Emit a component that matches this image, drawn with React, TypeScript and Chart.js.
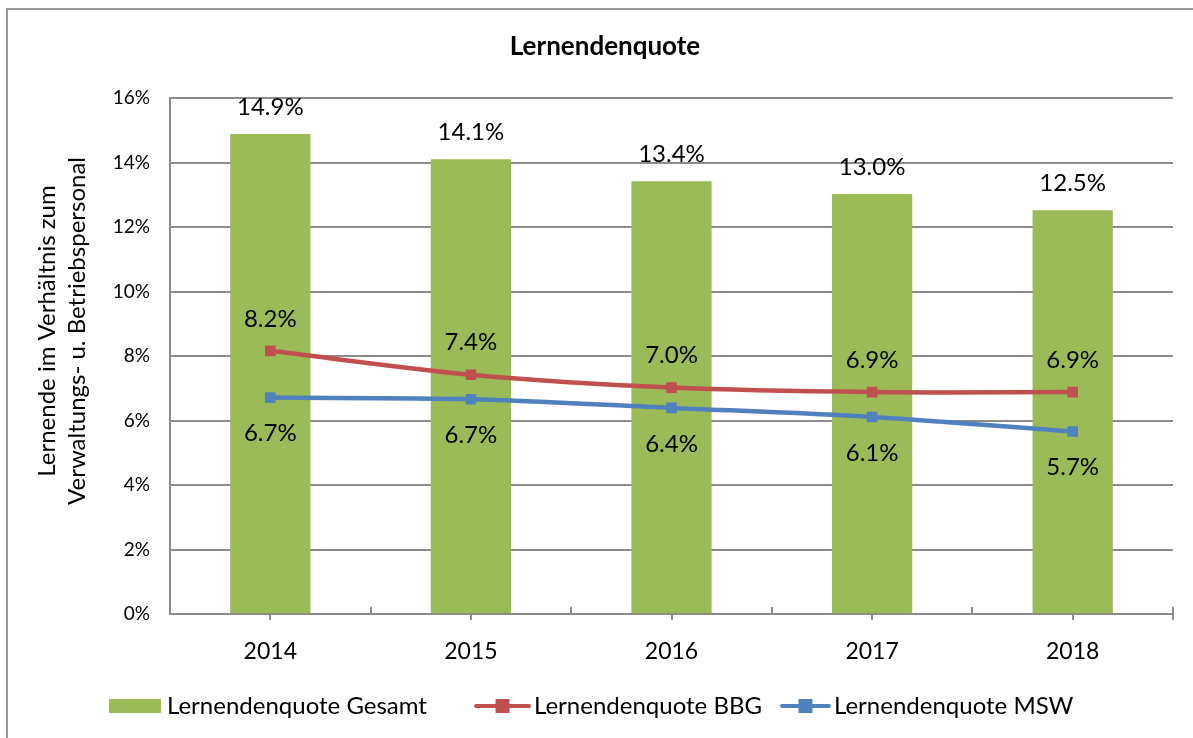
import { useEffect, useRef } from "react";
import { Chart, registerables } from "chart.js";

Chart.register(...registerables);

const years = ["2014", "2015", "2016", "2017", "2018"];
const gesamt = [14.88, 14.1, 13.42, 13.02, 12.52];
const bbg = [8.16, 7.42, 7.02, 6.88, 6.88];
const msw = [6.71, 6.66, 6.39, 6.11, 5.66];
const seriesNames = ["Lernendenquote Gesamt", "Lernendenquote BBG", "Lernendenquote MSW"];
const chartTitle = "Lernendenquote";
const yTitleLines = ["Lernende im Verhältnis zum", "Verwaltungs- u. Betriebspersonal"];

const GREEN = "#9BBB59";
const RED = "#C0504D";
const BLUE = "#4F81BD";
const GRID = "#8c8c8c";
const FONT = 'Lato, "Open Sans", sans-serif';

const extrasPlugin = {
  id: "extras",
  beforeDraw(chart: any) {
    const ctx = chart.ctx;
    ctx.save();
    ctx.fillStyle = "#fff";
    ctx.fillRect(0, 0, chart.width, chart.height);
    ctx.strokeStyle = "#999";
    ctx.lineWidth = 2;
    ctx.strokeRect(7, 9, chart.width + 20, chart.height + 20);
    ctx.restore();
  },
  afterDraw(chart: any) {
    const ctx = chart.ctx;
    const area = chart.chartArea;
    const xs = chart.scales.x;
    ctx.save();
    // title
    ctx.fillStyle = "#000";
    ctx.font = `bold 26px ${FONT}`;
    ctx.textAlign = "center";
    ctx.textBaseline = "middle";
    ctx.fillText(chartTitle, 605, 47);
    // y-axis title
    ctx.font = `24px ${FONT}`;
    const cx = [47, 77];
    yTitleLines.forEach((t, i) => {
      ctx.save();
      ctx.translate(cx[i], 331);
      ctx.rotate(-Math.PI / 2);
      ctx.fillText(t, 0, 0);
      ctx.restore();
    });
    // x-axis tick marks
    ctx.strokeStyle = GRID;
    ctx.lineWidth = 2;
    const n = years.length;
    const w = (area.right - area.left) / n;
    for (let i = 0; i <= n; i++) {
      const x = Math.round(area.left + i * w);
      ctx.beginPath();
      ctx.moveTo(x, area.bottom - 7);
      ctx.lineTo(x, i === n ? area.bottom + 6 : area.bottom);
      ctx.stroke();
    }
    for (let i = 0; i < n; i++) {
      const x = Math.round(xs.getPixelForValue(i));
      ctx.beginPath();
      ctx.moveTo(x, area.bottom);
      ctx.lineTo(x, area.bottom + 6);
      ctx.stroke();
    }
    // legend
    const ly = 706;
    ctx.font = `24px ${FONT}`;
    ctx.textAlign = "left";
    ctx.textBaseline = "middle";
    ctx.fillStyle = GREEN;
    ctx.fillRect(109, 699, 52, 14);
    ctx.fillStyle = "#000";
    ctx.fillText(seriesNames[0], 167, ly);
    const lineItem = (x0: number, x1: number, color: string, label: string) => {
      ctx.strokeStyle = color;
      ctx.lineWidth = 4;
      ctx.lineCap = "round";
      ctx.beginPath();
      ctx.moveTo(x0, ly);
      ctx.lineTo(x1, ly);
      ctx.stroke();
      ctx.fillStyle = color;
      const mx = (x0 + x1) / 2;
      ctx.fillRect(mx - 7, ly - 7, 14, 14);
      ctx.fillStyle = "#000";
      ctx.fillText(label, x1 + 5, ly);
    };
    lineItem(476, 529, RED, seriesNames[1]);
    lineItem(782, 829, BLUE, seriesNames[2]);
    ctx.restore();
  },
  afterDatasetsDraw(chart: any) {
    const ctx = chart.ctx;
    ctx.save();
    ctx.font = `24px ${FONT}`;
    ctx.fillStyle = "#000";
    ctx.textAlign = "center";
    ctx.textBaseline = "middle";
    const offsets = [-27, -32, 36];
    chart.data.datasets.forEach((ds: any, di: number) => {
      const meta = chart.getDatasetMeta(di);
      meta.data.forEach((el: any, i: number) => {
        const v = ds.data[i] as number;
        ctx.fillText(v.toFixed(1) + "%", el.x, el.y + offsets[di]);
      });
    });
    ctx.restore();
  },
};

export default function App() {
  const ref = useRef<HTMLCanvasElement | null>(null);
  useEffect(() => {
    document.body.style.margin = "0";
    const canvas = ref.current!;
    const chart = new Chart(canvas, {
      type: "bar",
      data: {
        labels: years,
        datasets: [
          {
            type: "bar",
            label: seriesNames[0],
            data: gesamt,
            backgroundColor: GREEN,
            barPercentage: 0.4,
            categoryPercentage: 1.0,
            order: 2,
          },
          {
            type: "line",
            label: seriesNames[1],
            data: bbg,
            borderColor: RED,
            backgroundColor: RED,
            borderWidth: 4.5,
            pointStyle: "rect",
            pointRadius: 7.5,
            pointBorderWidth: 0,
            tension: 0.3,
            order: 1,
          },
          {
            type: "line",
            label: seriesNames[2],
            data: msw,
            borderColor: BLUE,
            backgroundColor: BLUE,
            borderWidth: 4.5,
            pointStyle: "rect",
            pointRadius: 7.5,
            pointBorderWidth: 0,
            tension: 0.3,
            order: 0,
          },
        ] as any,
      },
      options: {
        responsive: false,
        animation: false,
        devicePixelRatio: 1,
        layout: { padding: { left: 0, top: 98, right: 20, bottom: 0 } },
        plugins: {
          legend: { display: false },
          title: { display: false },
          tooltip: { enabled: false },
        },
        scales: {
          x: {
            grid: { display: false },
            border: { display: true, color: GRID, width: 2 },
            ticks: { color: "#000", font: { family: FONT, size: 23 }, padding: 16 },
            afterFit: (s: any) => {
              s.height = 124;
            },
          },
          y: {
            min: 0,
            max: 16,
            ticks: {
              stepSize: 2,
              color: "#000",
              font: { family: FONT, size: 19 },
              padding: 20,
              callback: (v: any) => v + "%",
            },
            grid: { color: GRID, lineWidth: 2, drawTicks: false },
            border: { display: true, color: GRID, width: 2 },
            afterFit: (s: any) => {
              s.width = 170;
            },
          },
        },
      } as any,
      plugins: [extrasPlugin],
    });
    return () => chart.destroy();
  }, []);
  return <canvas ref={ref} width={1193} height={738} style={{ display: "block", width: 1193, height: 738 }} />;
}
